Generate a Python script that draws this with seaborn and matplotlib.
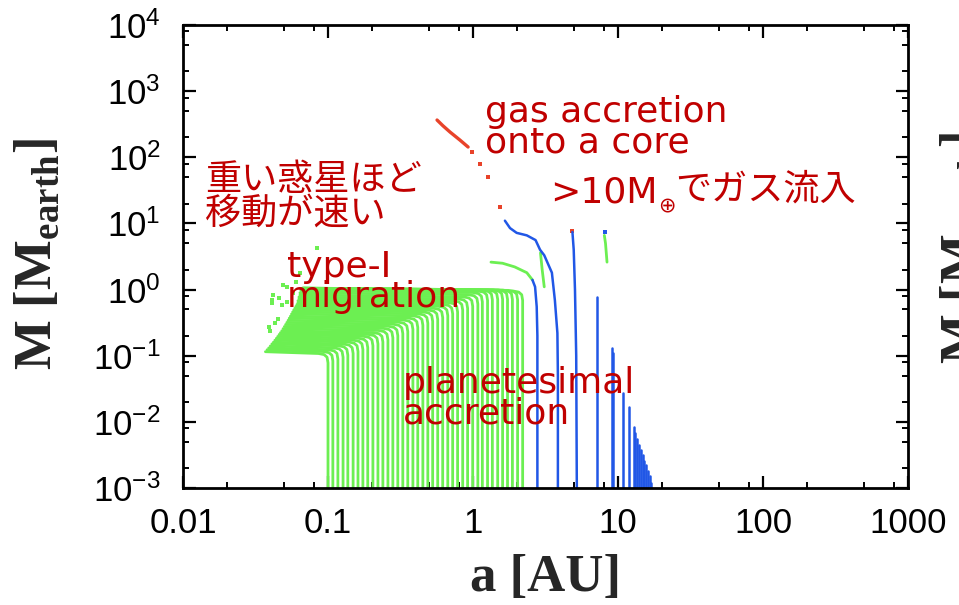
import numpy as np
import pandas as pd
import matplotlib
matplotlib.use("Agg")
import matplotlib.pyplot as plt
import seaborn as sns
from matplotlib.ticker import LogLocator, FixedLocator, FixedFormatter, NullFormatter

# ---------------- data ----------------
# rocky cores (green): initial a [AU], mass at end of planetesimal accretion, final a after type-I migration
green_a0 = [0.100, 0.108, 0.117, 0.127, 0.137, 0.149, 0.161, 0.174, 0.188, 0.204,
            0.221, 0.239, 0.259, 0.280, 0.303, 0.328, 0.355, 0.385, 0.416, 0.451,
            0.488, 0.527, 0.571, 0.618, 0.670, 0.724, 0.783, 0.849, 0.918, 0.995,
            1.08, 1.16, 1.26, 1.36, 1.48, 1.60, 1.73, 1.87, 2.03, 2.20]
green_mturn = [0.100, 0.107, 0.114, 0.122, 0.131, 0.139, 0.149, 0.159, 0.170, 0.182,
               0.194, 0.207, 0.223, 0.240, 0.258, 0.277, 0.298, 0.321, 0.344, 0.371,
               0.398, 0.426, 0.454, 0.484, 0.518, 0.552, 0.589, 0.628, 0.670, 0.719,
               0.776, 0.836, 0.880, 0.900, 0.910, 0.915, 0.915, 0.910, 0.900, 0.880]
green_aend = [0.037, 0.038, 0.039, 0.040, 0.041, 0.042, 0.043, 0.044, 0.045, 0.046,
              0.047, 0.048, 0.049, 0.050, 0.051, 0.052, 0.053, 0.054, 0.055, 0.056,
              0.057, 0.058, 0.059, 0.060, 0.061, 0.062, 0.062, 0.063, 0.063, 0.064,
              0.064, 0.065, 0.065, 0.066, 0.066, 0.067, 0.067, 0.068, 0.068, 0.069]
# fast-migrating snapshots (sparse green dots)
green_dot_a = [0.084, 0.064, 0.052, 0.049, 0.042, 0.041, 0.041, 0.052, 0.048,
               0.045, 0.043, 0.040, 0.039, 0.057, 0.046, 0.060]
green_dot_m = [4.25, 1.78, 1.09, 1.17, 0.83, 0.70, 0.63, 0.66, 0.58,
               0.36, 0.31, 0.24, 0.27, 0.90, 0.75, 1.30]

# icy cores (blue) growing in place
blue_a0 = [7.2, 9.05, 9.2, 10.8, 11.9, 12.8, 13.2, 13.6, 14.0, 14.4, 14.8,
           15.2, 15.6, 16.0, 16.5, 17.0]
blue_mtop = [0.77, 0.13, 0.11, 0.027, 0.017, 0.0085, 0.0068, 0.0055, 0.0045,
             0.0038, 0.0031, 0.0026, 0.0022, 0.0018, 0.0015, 0.0012]

# individual curved tracks
core1_a = [2.78, 2.78, 2.75, 2.68, 2.57]
core1_m = [0.001, 0.2, 0.55, 1.1, 1.4]
core1_mig_a = [2.57, 2.35, 1.94, 1.60, 1.33]
core1_mig_m = [1.4, 1.8, 2.2, 2.5, 2.6]
giant_core_a = [3.85, 3.85, 3.82, 3.67, 3.50, 3.10, 2.90, 2.70, 2.35, 2.00, 1.80, 1.66]
giant_core_m = [0.001, 0.05, 0.22, 0.69, 1.8, 3.3, 4.0, 5.6, 6.6, 7.2, 8.5, 11.0]
giant_gas_a = [0.925, 0.813, 0.694, 0.620, 0.565]
giant_gas_m = [143, 182, 241, 300, 366]
gas_dot_a = [1.54, 1.26, 1.11, 0.98, 4.85]
gas_dot_m = [17.7, 50, 79, 120, 7.8]
core3_a = [5.2, 5.15, 5.05, 4.95, 4.85]
core3_m = [0.001, 0.1, 1.0, 4.0, 7.4]
seg1_a = [3.10, 3.00, 2.92]
seg1_m = [1.1, 2.0, 3.6]
seg2_a = [8.4, 8.2, 8.05]
seg2_m = [2.6, 5.0, 6.6]
blue_dot_a = [8.1]
blue_dot_m = [7.4]

x_ticks = [0.01, 0.1, 1, 10, 100, 1000]
x_ticklabels = ["0.01", "0.1", "1", "10", "100", "1000"]
y_ticks = [1e-3, 1e-2, 1e-1, 1e0, 1e1, 1e2, 1e3, 1e4]
y_ticklabels = [r"$\mathdefault{10^{-3}}$", r"$\mathdefault{10^{-2}}$", r"$\mathdefault{10^{-1}}$",
                r"$\mathdefault{10^{0}}$", r"$\mathdefault{10^{1}}$", r"$\mathdefault{10^{2}}$",
                r"$\mathdefault{10^{3}}$", r"$\mathdefault{10^{4}}$"]

GREEN = "#6CEF52"
BLUE = "#2157E6"
RED = "#E8432A"
TXT = "#C00000"

# ---------------- build long-form tables ----------------
g_rows = []
for k, (a0, mt, ae) in enumerate(zip(green_a0, green_mturn, green_aend)):
    pa = [a0, a0, a0 * 0.985, a0 * 0.94, a0 * 0.86, ae]
    pm = [1e-3, mt * 0.78, mt * 0.95, mt * 1.04, mt * 1.08, mt * 1.15]
    for j, (x, y) in enumerate(zip(pa, pm)):
        g_rows.append(dict(track=k, order=j, a=x, M=y))
for k, (xs, ys) in enumerate([(core1_mig_a, core1_mig_m), (seg1_a, seg1_m), (seg2_a, seg2_m)]):
    for j, (x, y) in enumerate(zip(xs, ys)):
        g_rows.append(dict(track=100 + k, order=j, a=x, M=y))
gdf = pd.DataFrame(g_rows)

b_rows = []
for k, (a0, mt) in enumerate(zip(blue_a0, blue_mtop)):
    b_rows.append(dict(track=k, order=0, a=a0, M=1e-3))
    b_rows.append(dict(track=k, order=1, a=a0, M=mt))
for k, (xs, ys) in enumerate([(core1_a, core1_m), (giant_core_a, giant_core_m), (core3_a, core3_m)]):
    for j, (x, y) in enumerate(zip(xs, ys)):
        b_rows.append(dict(track=100 + k, order=j, a=x, M=y))
bdf = pd.DataFrame(b_rows)

rdf = pd.DataFrame(dict(a=giant_gas_a, M=giant_gas_m, track=0))
gdots = pd.DataFrame(dict(a=green_dot_a, M=green_dot_m))
rdots = pd.DataFrame(dict(a=gas_dot_a, M=gas_dot_m))
bdots = pd.DataFrame(dict(a=blue_dot_a, M=blue_dot_m))

# ---------------- plot ----------------
sns.set_style("ticks")
plt.rcParams["font.family"] = ["Liberation Sans", "DejaVu Sans", "Noto Sans CJK JP"]
plt.rcParams["axes.linewidth"] = 2.0

fig = plt.figure(figsize=(9.59, 6.05), dpi=100)
ax = fig.add_axes([183 / 959, 117 / 605, 725 / 959, 463 / 605])
ax.set_xscale("log")
ax.set_yscale("log")

sns.lineplot(data=gdf, x="a", y="M", units="track", estimator=None, sort=False,
             color=GREEN, lw=2.0, ax=ax, legend=False)
sns.scatterplot(data=gdots, x="a", y="M", color=GREEN, marker="s", s=8,
                linewidth=0, ax=ax, legend=False)
sns.lineplot(data=bdf, x="a", y="M", units="track", estimator=None, sort=False,
             color=BLUE, lw=1.8, ax=ax, legend=False)
sns.lineplot(data=rdf, x="a", y="M", units="track", estimator=None, sort=False,
             color=RED, lw=2.4, ax=ax, legend=False)
sns.scatterplot(data=rdots, x="a", y="M", color=RED, marker="s", s=9,
                linewidth=0, ax=ax, legend=False)
sns.scatterplot(data=bdots, x="a", y="M", color=BLUE, marker="s", s=12,
                linewidth=0, ax=ax, legend=False)

ax.set_xlim(0.01, 1000)
ax.set_ylim(1e-3, 1e4)
ax.xaxis.set_major_locator(FixedLocator(x_ticks))
ax.xaxis.set_major_formatter(FixedFormatter(x_ticklabels))
ax.yaxis.set_major_locator(FixedLocator(y_ticks))
ax.yaxis.set_major_formatter(FixedFormatter(y_ticklabels))
ax.xaxis.set_minor_locator(LogLocator(base=10, subs=[2, 5, 8], numticks=20))
ax.yaxis.set_minor_locator(LogLocator(base=10, subs=[2, 5, 8], numticks=20))
ax.xaxis.set_minor_formatter(NullFormatter())
ax.yaxis.set_minor_formatter(NullFormatter())
ax.tick_params(which="both", direction="in", top=True, right=True, colors="black")
ax.tick_params(which="major", length=9, width=1.6, labelsize=25)
ax.tick_params(which="minor", length=4.5, width=1.4)
ax.tick_params(axis="x", which="major", pad=14)
ax.tick_params(axis="y", which="major", pad=16)
for s in ax.spines.values():
    s.set_linewidth(2.0)
    s.set_color("black")

serif = dict(family=["Liberation Serif", "DejaVu Serif"], weight="bold", size=38)
ax.set_xlabel("a [AU]", **serif)
ax.set_ylabel(r"M [M$_{\mathdefault{earth}}$]", **serif)
ax.xaxis.label.set_va("center")
ax.yaxis.label.set_va("center")
ax.xaxis.set_label_coords(0.5, -0.194)
ax.yaxis.set_label_coords(-0.2, 0.505)

# partially visible label of the neighbouring panel
fig.text(964 / 959, 1 - 248 / 605, r"M [M$_{\mathdefault{earth}}$]", rotation=90,
         ha="center", va="center", **serif)

# ---------------- annotations ----------------
lat = dict(color=TXT, fontsize=26, family=["DejaVu Sans", "Noto Sans CJK JP"])
jp = dict(color=TXT, fontsize=26, family=["Noto Sans CJK JP", "DejaVu Sans"])

ax.text(1.21, 341, "gas accretion", va="baseline", ha="left", **lat)
ax.text(1.21, 120, "onto a core", va="baseline", ha="left", **lat)
t1 = ax.text(3.40, 20.4, ">10M", va="baseline", ha="left", **lat)
t2 = ax.annotate("\u2295", xy=(1, 0), xycoords=t1, xytext=(0.5, 3),
                 textcoords="offset points", va="center", ha="left",
                 color=TXT, fontsize=15, family=["DejaVu Sans"])
ax.annotate("でガス流入", xy=(1, 0), xycoords=t1, xytext=(13, 2),
            textcoords="offset points", va="bottom", ha="left", **jp)
ax.text(0.0142, 45.4, "重い惑星ほど", va="center", ha="left", **jp)
ax.text(0.0142, 13.9, "移動が速い", va="center", ha="left", **jp)
ax.text(0.0521, 1.55, "type-I", va="baseline", ha="left", **lat)
ax.text(0.0521, 0.545, "migration", va="baseline", ha="left", **lat)
ax.text(0.329, 0.0273, "planetesimal", va="baseline", ha="left", **lat)
ax.text(0.329, 0.0096, "accretion", va="baseline", ha="left", **lat)

fig.savefig("out.png", dpi=100, facecolor="white")
